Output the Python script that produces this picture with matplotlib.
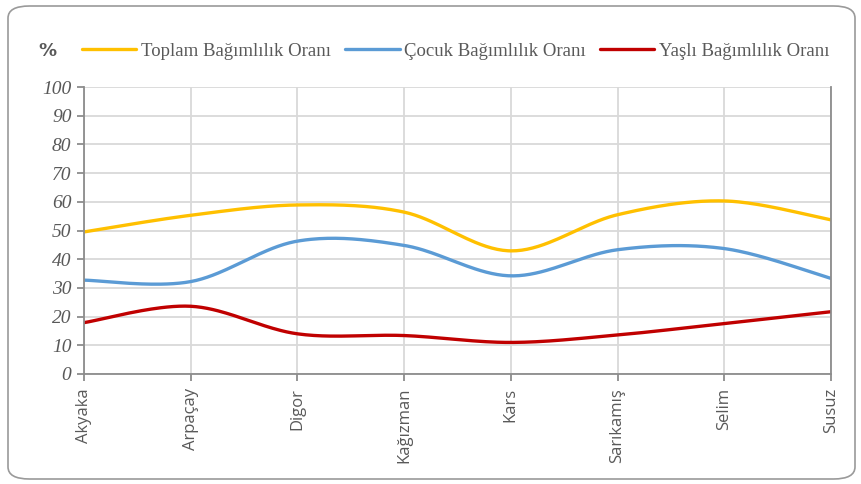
import numpy as np
import matplotlib
matplotlib.use("Agg")
import matplotlib.pyplot as plt
from matplotlib.patches import FancyBboxPatch

districts = ["Akyaka", "Arpaçay", "Digor", "Kağızman", "Kars", "Sarıkamış", "Selim", "Susuz"]
toplam = [49.5, 55.3, 58.9, 56.4, 42.9, 55.5, 60.3, 53.7]
cocuk = [32.7, 32.2, 46.3, 44.8, 34.2, 43.3, 43.7, 33.3]
yasli = [17.9, 23.6, 14.0, 13.4, 11.0, 13.6, 17.6, 21.7]

series_names = ["Toplam Bağımlılık Oranı", "Çocuk Bağımlılık Oranı", "Yaşlı Bağımlılık Oranı"]
series_colors = ["#FFC000", "#5B9BD5", "#C00000"]


def smooth_line(x, y, n=40):
    """
    Excel-like smoothed line (Catmull-Rom through Bezier segments).
    """
    x = np.asarray(x, dtype=float)
    y = np.asarray(y, dtype=float)
    px = np.concatenate(([x[0]], x, [x[-1]]))
    py = np.concatenate(([y[0]], y, [y[-1]]))
    xs, ys = [], []
    t = np.linspace(0, 1, n)
    for i in range(1, len(px) - 2):
        p0 = np.array([px[i], py[i]])
        p3 = np.array([px[i + 1], py[i + 1]])
        c1 = p0 + (np.array([px[i + 1], py[i + 1]]) - np.array([px[i - 1], py[i - 1]])) / 6
        c2 = p3 - (np.array([px[i + 2], py[i + 2]]) - np.array([px[i], py[i]])) / 6
        pts = ((1 - t) ** 3)[:, None] * p0 + (3 * (1 - t) ** 2 * t)[:, None] * c1 \
            + (3 * (1 - t) * t ** 2)[:, None] * c2 + (t ** 3)[:, None] * p3
        xs.append(pts[:, 0])
        ys.append(pts[:, 1])
    return np.concatenate(xs), np.concatenate(ys)


def main():
    fig = plt.figure(figsize=(8.61, 4.84), dpi=100)
    ax = fig.add_axes([84 / 861, 1 - 374 / 484, (831 - 84) / 861, (374 - 87) / 484])

    # rounded chart border
    border = FancyBboxPatch((8 / 861, 5 / 484), 847 / 861, 473 / 484,
                            boxstyle="round,pad=0,rounding_size=0.025",
                            transform=fig.transFigure, fill=False,
                            edgecolor="#9a9a9a", linewidth=1.2)
    fig.patches.append(border)

    x = np.arange(len(districts))
    handles = []
    for vals, name, col in zip([toplam, cocuk, yasli], series_names, series_colors):
        sx, sy = smooth_line(x, vals)
        h, = ax.plot(sx, sy, color=col, linewidth=2.4, label=name, solid_capstyle="round")
        handles.append(h)

    ax.set_xlim(0, len(districts) - 1)
    ax.set_ylim(0, 100)
    ax.set_yticks(np.arange(0, 101, 10))
    ax.set_xticks(x)
    ax.set_xticklabels(districts, rotation=90, family="Open Sans", fontsize=12,
                       color="#595959")
    for lbl in ax.get_yticklabels():
        lbl.set_family("Liberation Serif")
        lbl.set_style("italic")
        lbl.set_fontsize(14)
        lbl.set_color("#595959")

    ax.grid(True, color="#d9d9d9", linewidth=1.3)
    ax.set_axisbelow(True)
    for side in ["left", "bottom", "right"]:
        ax.spines[side].set_color("#8c8c8c")
        ax.spines[side].set_linewidth(1.3)
    ax.spines["top"].set_visible(False)
    ax.tick_params(axis="both", direction="out", length=5, width=1.3, color="#8c8c8c")
    ax.tick_params(axis="y", pad=4)
    ax.tick_params(axis="x", pad=5)

    fig.text(47 / 861, 1 - 51 / 484, "%", fontsize=13, fontweight="bold",
             color="#595959", ha="center", va="center", family="DejaVu Sans")

    leg = fig.legend(handles=handles, loc="center left", bbox_to_anchor=(82 / 861, 1 - 51 / 484),
                     ncol=3, frameon=False, borderpad=0, borderaxespad=0,
                     handlelength=2.9, handletextpad=0.25, columnspacing=0.75,
                     prop={"family": "Liberation Serif", "size": 13.5})
    for t in leg.get_texts():
        t.set_color("#595959")

    fig.savefig("out.png", dpi=100)


if __name__ == "__main__":
    main()
